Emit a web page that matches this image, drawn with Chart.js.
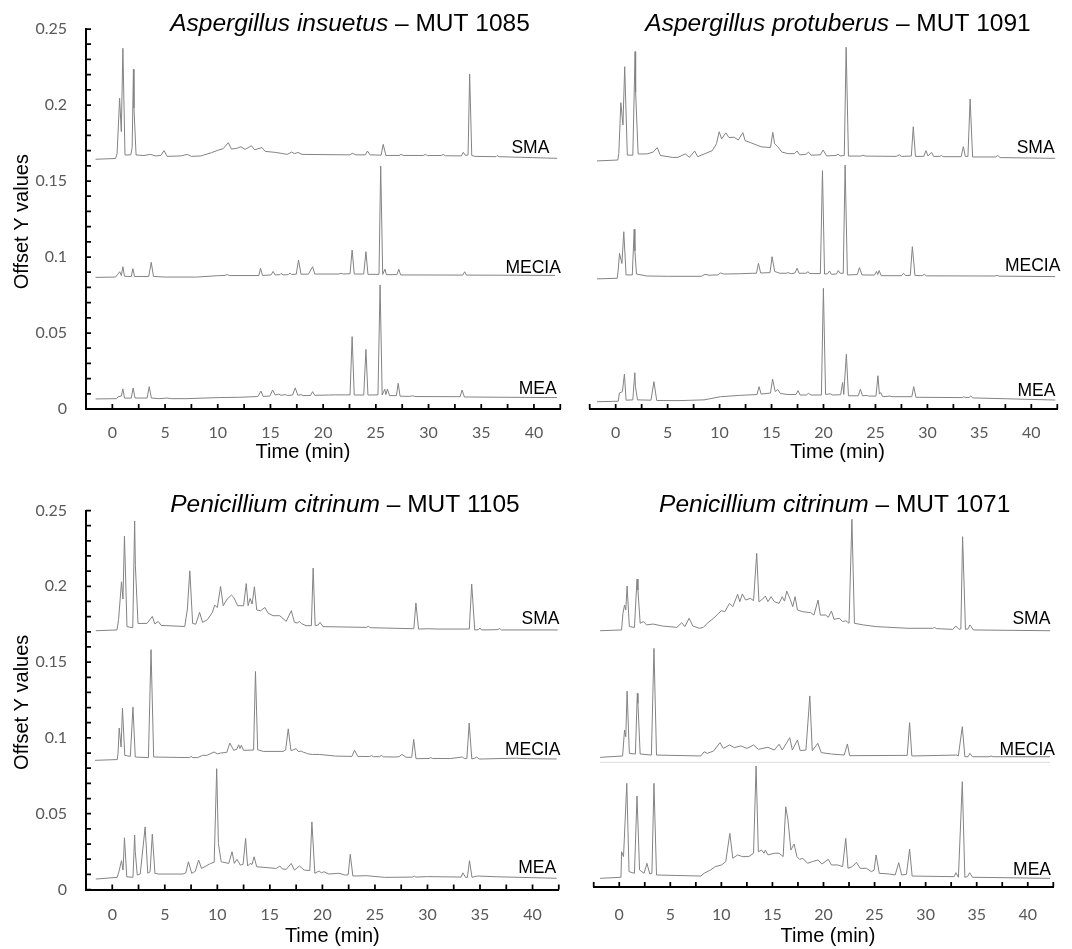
<!DOCTYPE html>
<html><head><meta charset="utf-8">
<script src="https://cdn.jsdelivr.net/npm/chart.js@4.4.1/dist/chart.umd.min.js"></script>
<style>
html,body{margin:0;padding:0;background:#fff;}
body{width:1072px;height:949px;position:relative;overflow:hidden;}
canvas{position:absolute;}
</style></head><body>
<canvas id="c1" width="575" height="470" style="left:0px;top:0px"></canvas>
<canvas id="c2" width="497" height="470" style="left:575px;top:0px"></canvas>
<canvas id="c3" width="575" height="479" style="left:0px;top:470px"></canvas>
<canvas id="c4" width="497" height="479" style="left:575px;top:470px"></canvas>
<script>
// ---------- text ----------
const seriesNames = ['SMA', 'MECIA', 'MEA'];
const panelSpecies = ['Aspergillus insuetus', 'Aspergillus protuberus', 'Penicillium citrinum', 'Penicillium citrinum'];
const panelCodes = [' \u2013 MUT 1085', ' \u2013 MUT 1091', ' \u2013 MUT 1105', ' \u2013 MUT 1071'];
const xAxisTitle = 'Time (min)';
const yAxisTitle = 'Offset Y values';
const xLabelValues = [0, 5, 10, 15, 20, 25, 30, 35, 40];
const yLabelValues = [0, 0.05, 0.1, 0.15, 0.2, 0.25];

// ---------- data: [time (min), offset absorbance] ----------
const insuetusSMA = [[-1.6,0.1643],[0.3,0.1648],[0.45,0.168],[0.69,0.2044],[0.85,0.1825],[1.0,0.2373],[1.2,0.1671],[1.75,0.1672],[1.88,0.172],[2.0,0.2235],[2.05,0.198],[2.25,0.1671],[3.0,0.1668],[3.6,0.1675],[4.1,0.1665],[4.6,0.1668],[4.9,0.170],[5.2,0.1662],[6.5,0.1665],[7.1,0.1675],[7.5,0.1662],[8.4,0.1665],[9.4,0.1686],[10.0,0.1702],[10.5,0.1712],[11.0,0.1752],[11.3,0.171],[11.8,0.1715],[12.2,0.1725],[12.6,0.1708],[13.2,0.1732],[13.5,0.1705],[14.2,0.172],[14.5,0.1695],[15.5,0.1688],[16.6,0.1675],[17.0,0.169],[17.3,0.168],[17.6,0.1688],[18.0,0.1675],[22.5,0.1672],[22.8,0.1682],[23.1,0.1672],[24.0,0.1672],[24.2,0.1697],[24.45,0.1672],[25.5,0.167],[25.7,0.1741],[25.95,0.1668],[27.2,0.1668],[27.4,0.1675],[27.6,0.1668],[29.5,0.1668],[29.7,0.1675],[29.9,0.1667],[31.2,0.1668],[31.4,0.1675],[31.6,0.1666],[33.1,0.1665],[33.3,0.1689],[33.5,0.1668],[33.75,0.1672],[33.9,0.2204],[34.1,0.1668],[34.4,0.1662],[36.4,0.166],[36.5,0.1667],[36.7,0.166],[42.2,0.1649]];
const insuetusMECIA = [[-1.6,0.0866],[0.3,0.0868],[0.5,0.0885],[0.7,0.0903],[0.85,0.0878],[1.0,0.0936],[1.15,0.0873],[1.8,0.0872],[1.95,0.0923],[2.1,0.0872],[3.45,0.0872],[3.69,0.0965],[3.9,0.0872],[5.0,0.0868],[8.0,0.0868],[10.0,0.0877],[10.7,0.0879],[10.9,0.0885],[11.1,0.0878],[13.9,0.0878],[14.06,0.0926],[14.25,0.0878],[15.05,0.0882],[15.25,0.0905],[15.45,0.0882],[15.9,0.0884],[16.0,0.0892],[16.2,0.0882],[16.7,0.0884],[16.85,0.0895],[17.0,0.0885],[17.45,0.0887],[17.66,0.098],[17.9,0.0887],[18.6,0.0887],[19.0,0.0936],[19.2,0.0888],[21.5,0.0888],[21.7,0.0893],[21.9,0.0888],[22.55,0.089],[22.75,0.1046],[22.95,0.0888],[23.85,0.0888],[24.06,0.1035],[24.25,0.0886],[25.3,0.0886],[25.46,0.1599],[25.65,0.0886],[25.87,0.092],[26.0,0.0884],[27.0,0.0884],[27.18,0.0919],[27.35,0.0882],[33.25,0.0881],[33.43,0.0903],[33.6,0.0881],[42.0,0.0879]];
const insuetusMEA = [[-1.6,0.0066],[0.4,0.0068],[0.55,0.0081],[0.85,0.0085],[1.0,0.0132],[1.15,0.0072],[1.8,0.0072],[1.97,0.0138],[2.15,0.0072],[3.3,0.0072],[3.5,0.0147],[3.7,0.0072],[4.5,0.0068],[5.2,0.0072],[5.6,0.0068],[7.0,0.0068],[10.0,0.0075],[12.0,0.0077],[13.8,0.0082],[14.1,0.0118],[14.3,0.0083],[14.95,0.0085],[15.2,0.0125],[15.45,0.0092],[15.8,0.0098],[16.0,0.009],[16.4,0.0095],[16.6,0.0089],[17.1,0.0092],[17.35,0.0139],[17.6,0.009],[17.9,0.0095],[18.1,0.0088],[18.8,0.0089],[19.0,0.0114],[19.2,0.009],[20.5,0.0092],[21.2,0.0093],[22.55,0.0093],[22.75,0.0476],[22.95,0.0092],[23.85,0.0092],[24.06,0.0392],[24.25,0.0092],[25.2,0.0093],[25.4,0.0816],[25.6,0.0092],[25.85,0.013],[25.95,0.0095],[26.1,0.013],[26.3,0.0088],[26.95,0.0088],[27.12,0.0169],[27.3,0.0084],[28.2,0.0083],[28.5,0.0087],[28.7,0.0082],[33.0,0.0081],[33.18,0.0125],[33.4,0.0079],[42.2,0.0075]];

const protuberusSMA = [[-1.8,0.1632],[0.2,0.1638],[0.3,0.168],[0.5,0.2015],[0.7,0.1868],[0.87,0.2252],[1.12,0.167],[1.65,0.167],[1.87,0.2351],[1.92,0.2085],[2.16,0.1678],[3.0,0.1678],[3.6,0.169],[4.0,0.172],[4.3,0.1668],[5.5,0.1655],[6.0,0.1656],[6.7,0.1678],[7.1,0.1656],[7.6,0.1697],[7.9,0.166],[8.6,0.168],[9.3,0.170],[9.7,0.1745],[9.96,0.1824],[10.2,0.1777],[10.6,0.1817],[10.9,0.1786],[11.4,0.1788],[11.8,0.177],[12.24,0.1818],[12.45,0.1766],[13.1,0.1749],[14.0,0.1725],[14.9,0.172],[15.12,0.182],[15.3,0.1745],[15.6,0.1725],[16.0,0.169],[16.6,0.168],[17.2,0.168],[17.46,0.1697],[17.7,0.1672],[18.3,0.1675],[18.56,0.169],[18.8,0.167],[19.7,0.1672],[19.96,0.1704],[20.3,0.1665],[21.2,0.1668],[21.4,0.1677],[21.6,0.1665],[22.0,0.1668],[22.18,0.238],[22.4,0.1664],[23.6,0.1664],[23.8,0.167],[24.0,0.1664],[27.0,0.1662],[27.3,0.1672],[27.5,0.1662],[28.45,0.1664],[28.64,0.1857],[28.85,0.1662],[29.65,0.1662],[29.86,0.170],[30.05,0.1665],[30.4,0.1688],[30.6,0.1662],[31.2,0.1662],[31.35,0.1668],[31.5,0.166],[33.25,0.166],[33.46,0.1726],[33.65,0.1662],[33.9,0.1662],[34.11,0.2039],[34.35,0.1658],[36.55,0.1658],[36.77,0.1668],[37.0,0.1654],[42.3,0.1649]];
const protuberusMECIA = [[-1.8,0.0856],[0.15,0.086],[0.25,0.092],[0.37,0.1024],[0.6,0.0957],[0.78,0.1166],[1.0,0.0882],[1.6,0.0882],[1.78,0.1182],[1.85,0.104],[2.0,0.0888],[3.0,0.0875],[5.0,0.0873],[8.25,0.0873],[8.6,0.0886],[9.0,0.088],[9.8,0.0882],[10.1,0.0895],[10.4,0.0888],[12.0,0.089],[13.2,0.0893],[13.55,0.0893],[13.74,0.0958],[13.95,0.0895],[14.85,0.0897],[15.05,0.1002],[15.3,0.0905],[15.8,0.0893],[16.4,0.0893],[16.6,0.0897],[16.9,0.089],[17.25,0.0895],[17.46,0.0926],[17.65,0.0893],[18.3,0.0893],[18.5,0.0903],[18.7,0.0891],[19.7,0.0891],[19.9,0.1568],[20.1,0.0888],[20.4,0.089],[20.58,0.0908],[20.75,0.0886],[21.25,0.0888],[21.42,0.0911],[21.6,0.0893],[21.9,0.0893],[22.08,0.1605],[22.3,0.0882],[23.25,0.0884],[23.46,0.093],[23.7,0.0882],[24.9,0.0881],[25.1,0.0905],[25.22,0.0885],[25.36,0.0911],[25.55,0.0877],[27.5,0.0877],[27.7,0.0893],[27.9,0.0878],[28.35,0.0879],[28.55,0.1068],[28.8,0.0879],[29.5,0.0877],[29.7,0.0886],[29.9,0.0876],[36.5,0.0875],[36.7,0.0879],[36.9,0.0874],[42.3,0.0871]];
const protuberusMEA = [[-1.8,0.0048],[0.25,0.0051],[0.35,0.0105],[0.65,0.0114],[0.84,0.023],[1.0,0.0058],[1.65,0.006],[1.84,0.0239],[1.9,0.015],[2.1,0.006],[3.4,0.0058],[3.68,0.018],[3.95,0.0056],[6.0,0.0055],[8.5,0.006],[10.1,0.0081],[12.0,0.009],[13.6,0.0095],[13.8,0.0147],[14.0,0.0098],[14.9,0.0105],[15.1,0.0197],[15.35,0.0115],[15.6,0.0128],[15.85,0.0102],[16.6,0.0095],[17.35,0.0095],[17.55,0.0121],[17.75,0.0092],[18.35,0.0092],[18.56,0.0103],[18.8,0.0092],[19.8,0.0092],[19.99,0.0794],[20.2,0.0096],[20.65,0.01],[20.9,0.0092],[21.65,0.0094],[21.84,0.0175],[21.95,0.0096],[22.2,0.036],[22.4,0.0087],[23.35,0.0087],[23.55,0.013],[23.75,0.0087],[24.2,0.0089],[24.35,0.0085],[25.05,0.0085],[25.24,0.0219],[25.38,0.0098],[25.5,0.0108],[25.7,0.0081],[26.4,0.0085],[26.6,0.0081],[28.5,0.0081],[28.68,0.0147],[28.9,0.0077],[33.35,0.0075],[33.5,0.0081],[33.65,0.0075],[34.0,0.0075],[34.17,0.0086],[34.35,0.0073],[42.3,0.0059]];

const citrinum1105SMA = [[-1.57,0.1707],[0.45,0.1712],[0.6,0.178],[0.88,0.203],[1.02,0.1916],[1.16,0.2332],[1.4,0.1734],[1.95,0.1727],[2.13,0.2431],[2.2,0.2135],[2.45,0.1755],[3.3,0.1755],[3.81,0.1801],[4.05,0.1752],[4.38,0.1768],[4.65,0.1742],[6.9,0.1735],[7.15,0.185],[7.38,0.2102],[7.65,0.1755],[7.95,0.175],[8.31,0.1828],[8.6,0.1762],[9.06,0.178],[9.53,0.1828],[9.75,0.1876],[10.0,0.186],[10.31,0.1999],[10.56,0.1872],[10.94,0.1916],[11.34,0.1942],[11.56,0.1927],[11.94,0.1872],[12.5,0.1872],[12.75,0.2018],[12.93,0.1872],[13.12,0.192],[13.31,0.1883],[13.53,0.1997],[13.75,0.1844],[14.12,0.1839],[14.53,0.186],[14.85,0.1822],[15.31,0.1806],[15.94,0.1806],[16.56,0.1769],[17.04,0.1839],[17.34,0.1762],[17.6,0.1758],[17.81,0.1768],[18.0,0.1755],[18.44,0.174],[18.95,0.174],[19.12,0.212],[19.31,0.174],[19.6,0.1745],[19.78,0.1762],[20.06,0.1734],[24.2,0.1729],[24.37,0.1736],[24.55,0.1727],[28.7,0.172],[28.9,0.189],[29.15,0.1718],[30.0,0.172],[31.0,0.1718],[33.98,0.1718],[34.21,0.2015],[34.5,0.1712],[34.85,0.1714],[35.0,0.1725],[35.15,0.1712],[36.7,0.1714],[36.87,0.1722],[37.05,0.1712],[42.4,0.1712]];
const citrinum1105MECIA = [[-1.65,0.0852],[0.47,0.0857],[0.55,0.09],[0.66,0.1065],[0.84,0.094],[0.97,0.1196],[1.19,0.0885],[1.72,0.0878],[1.97,0.1203],[2.19,0.0874],[3.44,0.087],[3.69,0.1582],[3.94,0.0874],[7.35,0.087],[7.5,0.0878],[7.65,0.087],[8.13,0.087],[8.6,0.0885],[9.0,0.0885],[9.69,0.0907],[10.0,0.0895],[10.31,0.09],[10.9,0.0905],[11.19,0.0966],[11.56,0.0918],[11.85,0.0925],[12.03,0.0955],[12.15,0.093],[12.28,0.0951],[12.5,0.0918],[13.45,0.092],[13.63,0.1438],[13.84,0.0922],[14.37,0.0911],[16.25,0.0911],[16.5,0.092],[16.75,0.106],[17.0,0.0918],[17.12,0.0918],[17.5,0.0929],[17.7,0.091],[17.97,0.0913],[18.2,0.0905],[18.44,0.09],[18.6,0.0895],[19.06,0.0891],[19.69,0.0891],[21.25,0.088],[22.81,0.0878],[23.06,0.0918],[23.37,0.0878],[24.5,0.0877],[24.68,0.0883],[24.85,0.0876],[25.45,0.0876],[25.62,0.0885],[25.8,0.0875],[26.87,0.0874],[27.3,0.0876],[27.56,0.0891],[27.97,0.0872],[28.5,0.0872],[28.69,0.099],[28.91,0.0863],[30.15,0.0864],[30.31,0.087],[30.5,0.0864],[32.19,0.0864],[33.34,0.0874],[33.5,0.0864],[33.75,0.0864],[33.97,0.1098],[34.22,0.0861],[34.5,0.0866],[34.69,0.0874],[34.9,0.0861],[35.31,0.0861],[37.0,0.0864],[38.4,0.0866],[39.5,0.0863],[42.3,0.0861]];
const citrinum1105MEA = [[-1.57,0.0069],[0.47,0.008],[0.63,0.0117],[0.88,0.019],[1.03,0.0128],[1.16,0.0341],[1.38,0.0084],[1.97,0.008],[2.13,0.0359],[2.19,0.0249],[2.38,0.0095],[2.66,0.0102],[3.13,0.0413],[3.38,0.0107],[3.6,0.0117],[3.81,0.0365],[4.06,0.0107],[4.38,0.0102],[6.72,0.0102],[7.0,0.011],[7.25,0.0183],[7.56,0.0107],[7.9,0.012],[8.22,0.0194],[8.5,0.0139],[9.37,0.0172],[9.7,0.018],[9.94,0.0797],[10.1,0.0304],[10.37,0.0183],[11.09,0.0172],[11.4,0.0249],[11.62,0.0172],[11.87,0.0199],[12.19,0.0161],[12.45,0.0165],[12.69,0.0337],[12.88,0.0155],[13.12,0.0172],[13.3,0.0165],[13.5,0.0216],[13.75,0.015],[15.62,0.0139],[15.94,0.0155],[16.2,0.0135],[16.56,0.0133],[17.03,0.0172],[17.34,0.0128],[17.81,0.0155],[18.28,0.0128],[18.8,0.0125],[19.0,0.0446],[19.28,0.0107],[19.69,0.0122],[19.9,0.011],[20.15,0.0117],[20.62,0.0102],[21.56,0.0107],[22.18,0.0095],[22.45,0.0097],[22.65,0.0232],[22.9,0.0089],[24.21,0.0091],[25.93,0.008],[28.6,0.0082],[28.75,0.0088],[28.9,0.0082],[30.0,0.0085],[33.2,0.0082],[33.37,0.011],[33.62,0.008],[33.8,0.008],[34.0,0.019],[34.24,0.008],[34.74,0.0089],[36.56,0.0084],[42.3,0.0074]];

const citrinum1071SMA = [[-1.87,0.1686],[0.23,0.1691],[0.36,0.18],[0.52,0.1855],[0.64,0.1822],[0.77,0.198],[0.99,0.1713],[1.49,0.1708],[1.74,0.2026],[1.83,0.1954],[2.05,0.1735],[2.37,0.1746],[2.68,0.1724],[3.3,0.173],[4.24,0.1717],[5.65,0.1708],[6.12,0.1739],[6.43,0.1713],[6.84,0.1768],[7.21,0.1717],[7.84,0.1702],[8.24,0.1708],[8.62,0.1735],[9.24,0.1768],[9.71,0.18],[10.02,0.1818],[10.33,0.1811],[10.8,0.1866],[11.12,0.1844],[11.59,0.1925],[11.81,0.1877],[12.06,0.1928],[12.37,0.1888],[12.84,0.1899],[13.15,0.1884],[13.46,0.2195],[13.68,0.1877],[13.93,0.1888],[14.31,0.1914],[14.56,0.1877],[14.87,0.191],[15.18,0.1877],[15.65,0.1866],[15.96,0.191],[16.18,0.1881],[16.4,0.1947],[16.74,0.1893],[16.99,0.1844],[17.22,0.191],[17.45,0.1822],[17.97,0.1811],[18.75,0.1805],[19.06,0.1789],[19.47,0.1888],[19.69,0.1789],[20.22,0.1789],[20.47,0.1774],[20.78,0.1816],[21.03,0.1761],[21.56,0.1768],[21.87,0.1746],[22.18,0.1752],[22.5,0.1735],[22.78,0.2419],[23.03,0.1735],[23.9,0.1724],[25.15,0.1713],[28.27,0.1702],[30.7,0.1702],[30.87,0.1708],[31.05,0.17],[32.65,0.1695],[32.96,0.1717],[33.27,0.1695],[33.45,0.1698],[33.62,0.2305],[33.9,0.1695],[34.15,0.1698],[34.34,0.1724],[34.68,0.1691],[42.18,0.1686]];
const citrinum1071MECIA = [[-1.87,0.0853],[0.33,0.0862],[0.52,0.1033],[0.64,0.0989],[0.77,0.1289],[0.99,0.0879],[1.58,0.0875],[1.77,0.1274],[1.83,0.1208],[2.05,0.0875],[3.15,0.0868],[3.4,0.157],[3.65,0.0868],[7.99,0.0862],[8.31,0.089],[8.62,0.0879],[9.24,0.0895],[9.87,0.095],[10.18,0.0912],[10.8,0.0934],[11.27,0.0917],[11.9,0.0928],[12.52,0.0912],[13.15,0.0934],[13.62,0.0906],[14.56,0.0919],[15.18,0.0901],[15.65,0.0939],[15.96,0.0901],[16.7,0.0982],[16.95,0.0901],[17.45,0.0967],[17.72,0.0897],[18.28,0.0901],[18.66,0.1257],[18.9,0.0897],[19.44,0.0945],[19.78,0.0884],[20.78,0.0875],[22.03,0.0868],[22.34,0.0941],[22.56,0.0864],[28.2,0.0866],[28.43,0.1081],[28.65,0.0862],[33.05,0.0868],[33.2,0.0862],[33.59,0.1055],[33.84,0.0857],[34.15,0.0857],[34.34,0.0879],[34.59,0.0857],[36.2,0.0857],[36.4,0.0862],[36.6,0.0857],[42.18,0.0857]];
const citrinum1071Guide = [[-1.87,0.082],[42.18,0.082]];
const citrinum1071MEA = [[-1.87,0.0057],[0.17,0.0064],[0.23,0.0232],[0.42,0.02],[0.74,0.0682],[0.96,0.0101],[1.49,0.009],[1.74,0.0599],[1.99,0.0112],[2.43,0.009],[2.71,0.0156],[2.99,0.0086],[3.2,0.009],[3.4,0.0682],[3.65,0.0079],[7.99,0.0072],[8.31,0.009],[8.93,0.0112],[9.4,0.0134],[10.02,0.0145],[10.43,0.0167],[10.83,0.0353],[11.12,0.0189],[11.59,0.0211],[12.06,0.02],[12.68,0.02],[13.15,0.0222],[13.4,0.0796],[13.62,0.0232],[13.93,0.0243],[14.18,0.0222],[14.31,0.0243],[14.56,0.0211],[15.18,0.0222],[15.65,0.0222],[16.05,0.02],[16.3,0.0528],[16.52,0.0441],[16.81,0.0243],[17.12,0.0283],[17.4,0.02],[17.66,0.0182],[17.97,0.0189],[18.44,0.0156],[18.9,0.0167],[19.47,0.0178],[19.84,0.0151],[20.47,0.0182],[20.78,0.0145],[21.4,0.0145],[21.87,0.0134],[22.18,0.032],[22.4,0.0123],[22.81,0.0134],[23.22,0.0162],[23.59,0.0123],[24.21,0.0123],[24.68,0.0101],[24.95,0.011],[25.15,0.0211],[25.46,0.009],[26.4,0.0086],[27.02,0.0079],[27.37,0.016],[27.65,0.0079],[28.12,0.0083],[28.43,0.025],[28.68,0.0072],[32.8,0.0068],[32.96,0.0094],[33.21,0.0064],[33.59,0.0693],[33.84,0.0064],[34.1,0.0068],[34.31,0.0094],[34.59,0.0064],[42.18,0.0057]];

const panelSeries = [
  [insuetusSMA, insuetusMECIA, insuetusMEA],
  [protuberusSMA, protuberusMECIA, protuberusMEA],
  [citrinum1105SMA, citrinum1105MECIA, citrinum1105MEA],
  [citrinum1071SMA, citrinum1071MECIA, citrinum1071MEA]
];

// ---------- layout (page coordinates) ----------
const panels = [
  {id:'c1', ox:0, oy:0, w:575, h:470, pad:{left:0, right:7.3, top:29, bottom:0}, yWidth:86, xHeight:61, showY:true,
   titleX:350, titleY:31, xTitleX:303, xTitleY:452, yTitleX:22, yTitleY:221.7, tickPad:14.7,
   labelDx:[-11, 0.6, -3.7], labelDy:[5, 2.7, 3.3]},
  {id:'c2', ox:575, oy:0, w:497, h:470, pad:{left:9, right:9.3, top:29, bottom:0}, yWidth:0, xHeight:61, showY:false,
   titleX:838, titleY:31, xTitleX:837.5, xTitleY:452, tickPad:14.7,
   labelDx:[-2.7, 3, -2], labelDy:[5, 6, 4]},
  {id:'c3', ox:0, oy:470, w:575, h:479, pad:{left:0, right:7.3, top:40.5, bottom:0}, yWidth:86, xHeight:59.5, showY:true,
   titleX:345, titleY:511.5, xTitleX:332.3, xTitleY:936, yTitleX:22.5, yTitleY:702.3, tickPad:16.2,
   labelDx:[0.6, 1.6, -2.7], labelDy:[6, 3.6, 5.6]},
  {id:'c4', ox:575, oy:470, w:497, h:479, pad:{left:9, right:8, top:37, bottom:0}, yWidth:0, xHeight:62, showY:false,
   titleX:834.7, titleY:511.5, xTitleX:828, xTitleY:936, tickPad:18.7,
   labelDx:[-3, 1.7, -2.3], labelDy:[6.7, 1.7, 3.3]}
];

const FONT_SANS = '"Liberation Sans", Arial, sans-serif';
const TICK_FONT = 'Lato, "Open Sans", sans-serif';

const decor = {
  id: 'panelDecor',
  afterDraw(chart, args, o) {
    const ctx = chart.ctx, xs = chart.scales.x, ys = chart.scales.y, a = chart.chartArea;
    ctx.save();
    // inward tick marks
    ctx.strokeStyle = '#000';
    ctx.lineWidth = 1.75;
    ctx.beginPath();
    xs.ticks.forEach(t => {
      const px = xs.getPixelForValue(t.value);
      ctx.moveTo(px, a.bottom);
      ctx.lineTo(px, a.bottom - 5);
    });
    if (o.showY) {
      ys.ticks.forEach(t => {
        const py = ys.getPixelForValue(t.value);
        ctx.moveTo(a.left, py);
        ctx.lineTo(a.left + 5, py);
      });
    }
    ctx.stroke();
    // panel title (italic species + regular code)
    ctx.fillStyle = '#000';
    ctx.textBaseline = 'alphabetic';
    ctx.textAlign = 'left';
    const fItal = 'italic 24.5px ' + FONT_SANS, fReg = '24.5px ' + FONT_SANS;
    ctx.font = fItal; const w1 = ctx.measureText(o.species).width;
    ctx.font = fReg; const w2 = ctx.measureText(o.code).width;
    const sx = o.titleX - (w1 + w2) / 2;
    ctx.font = fItal; ctx.fillText(o.species, sx, o.titleY);
    ctx.font = fReg; ctx.fillText(o.code, sx + w1, o.titleY);
    // axis titles
    ctx.font = '20px ' + FONT_SANS;
    ctx.textAlign = 'center';
    ctx.textBaseline = 'middle';
    ctx.fillText(xAxisTitle, o.xTitleX, o.xTitleY);
    if (o.showY) {
      ctx.save();
      ctx.translate(o.yTitleX, o.yTitleY);
      ctx.rotate(-Math.PI / 2);
      ctx.fillText(yAxisTitle, 0, 0);
      ctx.restore();
    }
    // series labels next to trace ends
    ctx.font = '17.5px ' + FONT_SANS;
    ctx.textAlign = 'right';
    ctx.textBaseline = 'alphabetic';
    chart.data.datasets.forEach((ds) => {
      if (ds.tagIndex === undefined) return;
      const last = ds.data[ds.data.length - 1];
      const py = ys.getPixelForValue(last[1]);
      ctx.fillText(seriesNames[ds.tagIndex], a.right + o.labelDx[ds.tagIndex], py - o.labelDy[ds.tagIndex]);
    });
    ctx.restore();
  }
};

panels.forEach((p, k) => {
  const datasets = panelSeries[k].map((arr, i) => ({
    data: arr, tagIndex: i, borderColor: '#838383', borderWidth: 1,
    pointRadius: 0, tension: 0, fill: false
  }));
  if (k === 3) {
    datasets.push({data: citrinum1071Guide, borderColor: '#dedede', borderWidth: 1, pointRadius: 0, fill: false});
  }
  new Chart(document.getElementById(p.id), {
    type: 'line',
    data: { datasets },
    plugins: [decor],
    options: {
      responsive: false,
      animation: false,
      events: [],
      layout: { padding: p.pad },
      plugins: {
        legend: { display: false },
        tooltip: { enabled: false },
        panelDecor: {
          showY: p.showY,
          species: panelSpecies[k], code: panelCodes[k],
          titleX: p.titleX - p.ox, titleY: p.titleY - p.oy,
          xTitleX: p.xTitleX - p.ox, xTitleY: p.xTitleY - p.oy,
          yTitleX: (p.yTitleX || 0) - p.ox, yTitleY: (p.yTitleY || 0) - p.oy,
          labelDx: p.labelDx, labelDy: p.labelDy
        }
      },
      scales: {
        x: {
          type: 'linear', min: -2.5, max: 42.5,
          afterFit: s => { s.height = p.xHeight; },
          grid: { display: false, drawTicks: false },
          border: { display: true, color: '#000', width: 2 },
          ticks: {
            stepSize: 2.5, maxTicksLimit: 30, autoSkip: false, maxRotation: 0, minRotation: 0,
            padding: p.tickPad, color: '#595959', font: { family: TICK_FONT, size: 16 },
            callback: v => xLabelValues.some(L => Math.abs(L - v) < 1e-6) ? String(Math.round(v)) : ''
          }
        },
        y: {
          type: 'linear', min: 0, max: 0.25, display: p.showY,
          afterFit: s => { s.width = p.yWidth; },
          grid: { display: false, drawTicks: false },
          border: { display: p.showY, color: '#000', width: 2 },
          ticks: {
            stepSize: 0.01, maxTicksLimit: 30, autoSkip: false,
            padding: 19, color: '#595959', font: { family: TICK_FONT, size: 16 },
            callback: v => yLabelValues.some(L => Math.abs(L - v) < 1e-6) ? String(Math.round(v * 100) / 100) : ''
          }
        }
      }
    }
  });
});
</script>
</body></html>
